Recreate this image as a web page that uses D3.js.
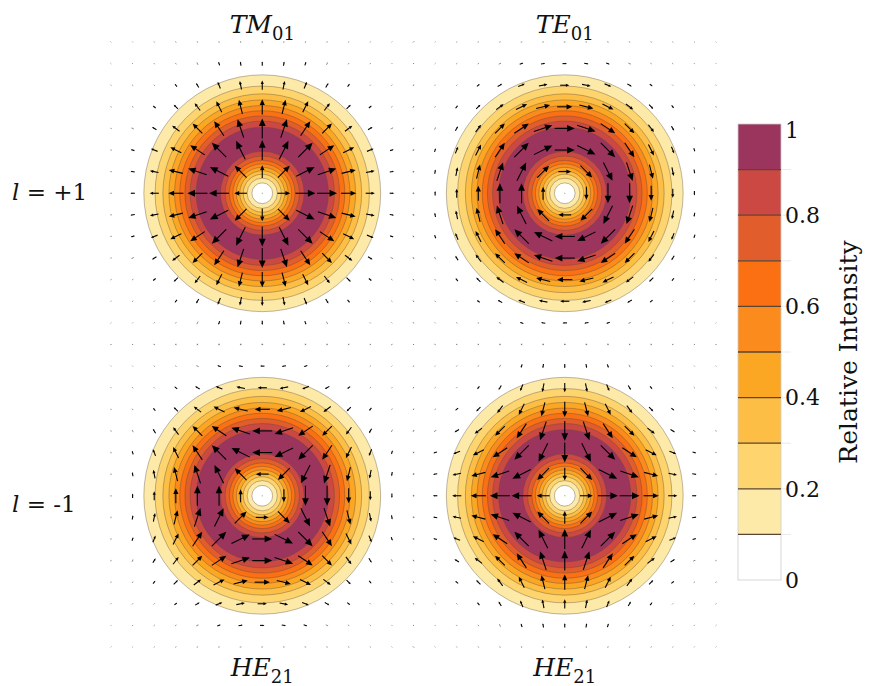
<!DOCTYPE html>
<html>
<head>
<meta charset="utf-8">
<script src="https://cdn.jsdelivr.net/npm/d3@7"></script>
<style>
  body { margin: 0; background: #fff; }
  text { font-family: "DejaVu Serif", "Liberation Serif", serif; fill: #111; }
</style>
</head>
<body>
<svg id="chart"></svg>
<script>
// ─── Data ──────────────────────────────────────────────────────────────────
// contour levels and the radii (plot units) where the donut crosses them
const LEVELS   = [0.1, 0.2, 0.3, 0.4, 0.5, 0.6, 0.7, 0.8, 0.9];
const R_INNER  = [0.24, 0.35, 0.44, 0.52, 0.60, 0.68, 0.76, 0.86, 0.97];
const R_OUTER  = [2.74, 2.48, 2.30, 2.16, 2.03, 1.91, 1.79, 1.67, 1.53];
const R_PEAK   = 1.24;
// faint tail outside the last contour (for the tiny arrows)
const R_TAIL   = [3.0, 3.5, 4.95];
const I_TAIL   = [0.045, 0.0075, 0.0002];

// one colour per band: [0,.1], [.1,.2] ... [.9,1]
const BAND_COLORS = ["#ffffff", "#feeaa8", "#fdd46e", "#fdbe46", "#fca724",
                     "#fa8b1c", "#fa7013", "#e15d2b", "#cc4842", "#9c355e"];

// modes: name, subscript, polarisation  E = (a cosφ + b sinφ, c cosφ + d sinφ)
const MODE_NAMES = ["TM", "TE", "HE", "HE"];
const MODE_SUBS  = ["01", "01", "21", "21"];
const MODE_POL   = [[1, 0, 0, 1], [0, 1, -1, 0], [0, -1, -1, 0], [1, 0, 0, -1]];
const ROW_LABELS = ["+1", "-1"];

const CBAR_TICKS = [0, 0.2, 0.4, 0.6, 0.8, 1];

// ─── Layout ────────────────────────────────────────────────────────────────
const W = 872, H = 686;
const GRID_MAX = 3.5, GRID_STEP = 0.5;
const colBand = d3.scaleBand().domain([0, 1]).range([111, 716]);
const rowBand = d3.scaleBand().domain([0, 1]).range([42, 647]);
const MAX_ARROW = 21;

const svg = d3.select("#chart").attr("width", W).attr("height", H);

// radial intensity profile
const intensity = d3.scaleLinear()
  .domain([0, ...R_INNER, R_PEAK, ...R_OUTER.slice().reverse(), ...R_TAIL])
  .range([0, ...LEVELS, 1, ...LEVELS.slice().reverse(), ...I_TAIL])
  .clamp(true);

const gridVals = d3.range(-GRID_MAX, GRID_MAX + 1e-9, GRID_STEP);

MODE_NAMES.forEach((name, i) => {
  const col = i % 2, row = Math.floor(i / 2);
  const x0 = colBand(col), y0 = rowBand(row);
  const x = d3.scaleLinear().domain([-GRID_MAX, GRID_MAX]).range([x0, x0 + colBand.bandwidth()]);
  const y = d3.scaleLinear().domain([-GRID_MAX, GRID_MAX]).range([y0 + rowBand.bandwidth(), y0]);
  const k = x(1) - x(0);
  const cx = x(0), cy = y(0);
  const g = svg.append("g");

  // ── filled contour rings: outer side then inner side ─────────────────────
  const rings = [];
  LEVELS.forEach((L, j) => rings.push({ r: R_OUTER[j], c: BAND_COLORS[j + 1] }));
  LEVELS.slice().reverse().forEach((L, j) => {
    const idx = LEVELS.length - 1 - j;
    rings.push({ r: R_INNER[idx], c: BAND_COLORS[idx] });
  });
  g.selectAll("circle.ring").data(rings).join("circle")
    .attr("class", "ring")
    .attr("cx", cx).attr("cy", cy)
    .attr("r", d => d.r * k)
    .attr("fill", d => d.c)
    .attr("stroke", "#5a4a3a").attr("stroke-opacity", 0.55).attr("stroke-width", 0.7);

  // ── vector field ─────────────────────────────────────────────────────────
  const [a, b, c, d] = MODE_POL[i];
  const pts = [];
  gridVals.forEach(gx => gridVals.forEach(gy => {
    const r = Math.hypot(gx, gy);
    const phi = Math.atan2(gy, gx);
    const ex = a * Math.cos(phi) + b * Math.sin(phi);
    const ey = c * Math.cos(phi) + d * Math.sin(phi);
    const amp = Math.sqrt(intensity(r));
    pts.push({ px: x(gx), py: y(gy), ux: ex, uy: -ey, len: amp * MAX_ARROW });
  }));

  const arrows = g.selectAll("g.arrow").data(pts).join("g").attr("class", "arrow");
  arrows.each(function (p) {
    const sel = d3.select(this);
    const len = Math.max(p.len, 0.9);
    const tone = p.len < 3 ? "#777" : "#000";
    const hx = p.px + p.ux * len / 2, hy = p.py + p.uy * len / 2;
    const tx = p.px - p.ux * len / 2, ty = p.py - p.uy * len / 2;
    const hl = len * 0.38, hw = len * 0.17;
    const bx = hx - p.ux * hl, by = hy - p.uy * hl;
    sel.append("line")
      .attr("x1", tx).attr("y1", ty).attr("x2", bx + p.ux * 0.5).attr("y2", by + p.uy * 0.5)
      .attr("stroke", tone).attr("stroke-width", p.len < 3 ? 0.8 : 1.1);
    if (p.len >= 2) {
      sel.append("path")
        .attr("d", `M${hx},${hy}L${bx - p.uy * hw},${by + p.ux * hw}L${bx + p.uy * hw},${by - p.ux * hw}Z`)
        .attr("fill", tone);
    }
  });

  // ── title ────────────────────────────────────────────────────────────────
  const tY = row === 0 ? 33 : 676;
  const t = svg.append("text").attr("x", cx).attr("y", tY)
    .attr("text-anchor", "middle").attr("font-size", 25);
  t.append("tspan").attr("font-style", "italic").text(name);
  t.append("tspan").attr("font-size", 18).attr("dy", 7).text(MODE_SUBS[i]);
});

// ── row labels ────────────────────────────────────────────────────────────
ROW_LABELS.forEach((lab, row) => {
  const t = svg.append("text").attr("x", 12).attr("y", row === 0 ? 200 : 512)
    .attr("font-size", 23);
  t.append("tspan").attr("font-style", "italic").text("l");
  t.append("tspan").text(" = " + lab);
});

// ─── Colour bar ────────────────────────────────────────────────────────────
const cbX = 738, cbW = 43;
const cy = d3.scaleLinear().domain([0, 1]).range([580, 124]);
const cb = svg.append("g");
const bands = d3.range(BAND_COLORS.length).map(j => ({ lo: j / 10, hi: (j + 1) / 10, c: BAND_COLORS[j] }));
cb.selectAll("rect.band").data(bands).join("rect")
  .attr("class", "band")
  .attr("x", cbX).attr("width", cbW)
  .attr("y", d => cy(d.hi)).attr("height", d => cy(d.lo) - cy(d.hi))
  .attr("fill", d => d.c);
cb.append("rect").attr("x", cbX).attr("y", cy(1)).attr("width", cbW).attr("height", cy(0) - cy(1))
  .attr("fill", "none").attr("stroke", "#ccc").attr("stroke-width", 0.8);
cb.selectAll("line.sep").data(LEVELS).join("line")
  .attr("class", "sep")
  .attr("x1", cbX).attr("x2", cbX + cbW)
  .attr("y1", d => cy(d)).attr("y2", d => cy(d))
  .attr("stroke", "#5a4530").attr("stroke-width", 1.3);
cb.selectAll("line.tick").data(LEVELS).join("line")
  .attr("class", "tick")
  .attr("x1", cbX + cbW).attr("x2", cbX + cbW + 10)
  .attr("y1", d => cy(d)).attr("y2", d => cy(d))
  .attr("stroke", "#e4e4e4").attr("stroke-width", 0.8);
cb.selectAll("text.lab").data(CBAR_TICKS).join("text")
  .attr("class", "lab")
  .attr("x", cbX + cbW + 4)
  .attr("y", d => Math.max(cy(d), cy(1) + 6))
  .attr("dy", "0.35em")
  .attr("font-size", 22)
  .text(d => d === 0 || d === 1 ? d3.format("d")(d) : d3.format(".1f")(d));

svg.append("text")
  .attr("transform", `translate(857,${(cy(0) + cy(1)) / 2}) rotate(-90)`)
  .attr("text-anchor", "middle")
  .attr("font-size", 25)
  .text("Relative Intensity");
</script>
</body>
</html>
